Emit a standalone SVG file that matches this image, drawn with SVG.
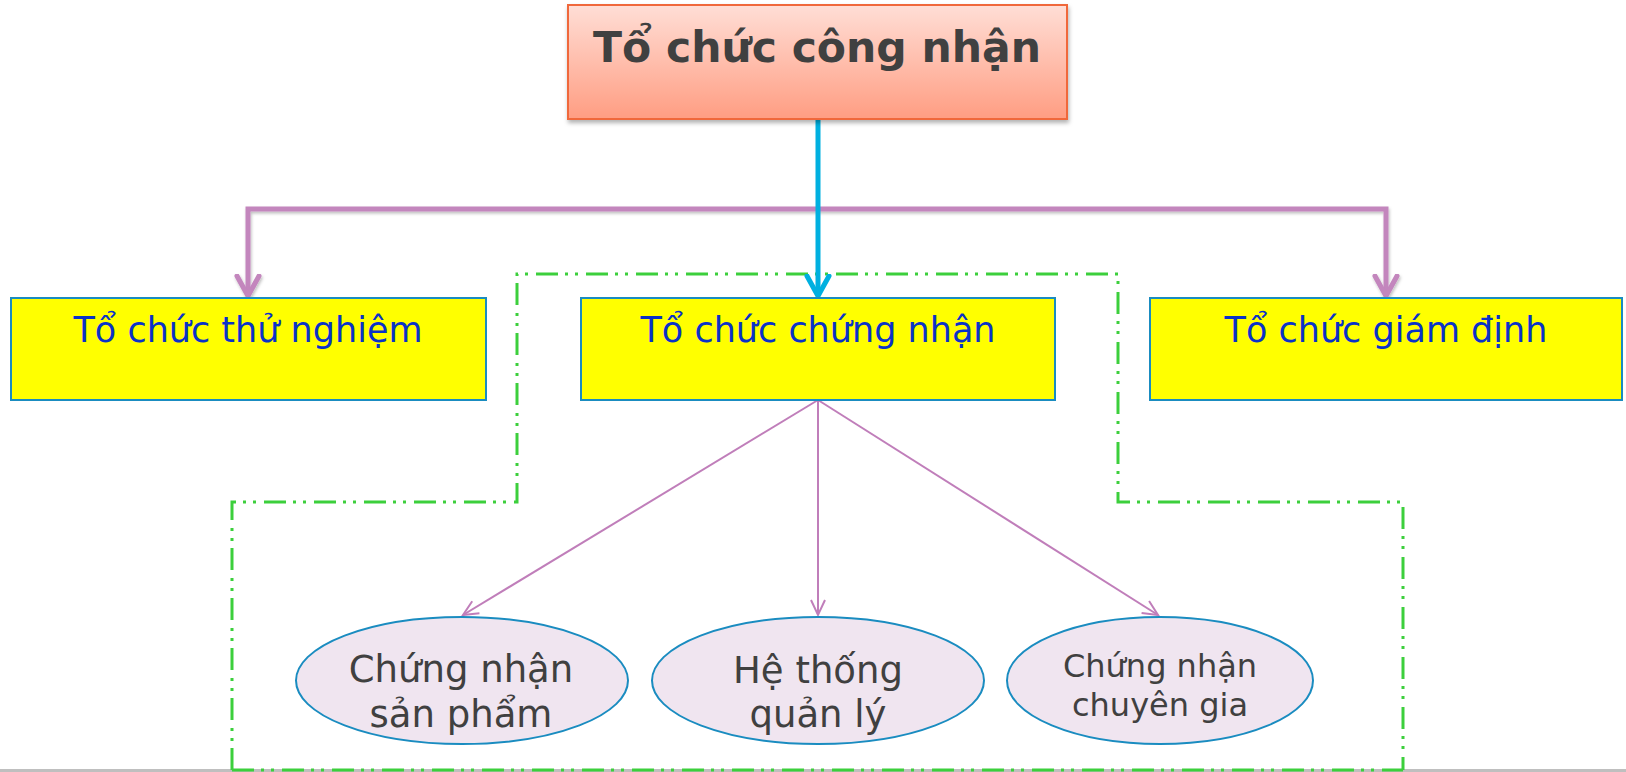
<svg xmlns="http://www.w3.org/2000/svg" width="1626" height="772" viewBox="0 0 1626 772">
<style>
.box{fill:#FFFF00;stroke:#1A8CC0;stroke-width:2}
.btxt{font-family:"DejaVu Sans",Verdana,sans-serif;font-size:35px;fill:#0A32C8;text-anchor:middle}
.ell{fill:#F0E5F0;stroke:#1A8CC0;stroke-width:2}
.etxt{font-family:"DejaVu Sans",Verdana,sans-serif;font-size:37px;fill:#404040;text-anchor:middle}
.etxt.sm{font-size:32px}
.thick{fill:none;stroke:#C386BD;stroke-width:5;stroke-linejoin:miter}
.thin{fill:none;stroke:#C07EBA;stroke-width:2}
.green{fill:none;stroke:#3CCF3C;stroke-width:3;stroke-dasharray:22 7 3 7 3 8}
</style>
<defs>
<linearGradient id="topg" x1="0" y1="0" x2="0" y2="1">
<stop offset="0" stop-color="#FFDED6"/>
<stop offset="1" stop-color="#FF9D82"/>
</linearGradient>
<filter id="sh" x="-10%" y="-10%" width="120%" height="130%">
<feDropShadow dx="1" dy="3" stdDeviation="2" flood-color="#000" flood-opacity="0.3"/>
</filter>
<filter id="lsh" filterUnits="userSpaceOnUse" x="200" y="180" width="1240" height="150">
<feDropShadow dx="1" dy="2" stdDeviation="1.5" flood-color="#000" flood-opacity="0.25"/>
</filter>
<marker id="ap" markerUnits="userSpaceOnUse" markerWidth="30" markerHeight="30" refX="22" refY="12" orient="auto-start-reverse" viewBox="0 0 30 24">
<path d="M2,1 L22,12 L2,23" fill="none" stroke="#C386BD" stroke-width="5" stroke-linecap="round" stroke-linejoin="round"/>
</marker>
<marker id="ab" markerUnits="userSpaceOnUse" markerWidth="30" markerHeight="30" refX="22" refY="12" orient="auto" viewBox="0 0 30 24">
<path d="M2,1 L22,12 L2,23" fill="none" stroke="#00B0E0" stroke-width="5" stroke-linecap="round" stroke-linejoin="round"/>
</marker>
<marker id="at" markerUnits="userSpaceOnUse" markerWidth="20" markerHeight="20" refX="16" refY="8" orient="auto" viewBox="0 0 20 16">
<path d="M1,1 L16,8 L1,15" fill="none" stroke="#C07EBA" stroke-width="2"/>
</marker>
</defs>
<rect width="1626" height="772" fill="#FFFFFF"/>
<line x1="0" y1="770.5" x2="1626" y2="770.5" stroke="#BFBFBF" stroke-width="3"/>

<g id="group-outline">
<path class="green" d="M232,770 V502 H517 V274 H1118 V502 H1403 V770"/>
<line class="green" x1="232" y1="770" x2="1403" y2="770"/>
</g>

<g id="connectors">
<path class="thick" filter="url(#lsh)" d="M248,296 V209 H1386 V296" marker-start="url(#ap)" marker-end="url(#ap)"/>
<path d="M818,119 V296" fill="none" stroke="#00B0E0" stroke-width="5" marker-end="url(#ab)"/>
<path class="thin" d="M818,400 L463,615" marker-end="url(#at)"/>
<path class="thin" d="M818,400 L818,615" marker-end="url(#at)"/>
<path class="thin" d="M818,400 L1158,615" marker-end="url(#at)"/>
</g>

<g id="node-cong-nhan">
<rect x="568" y="5" width="499" height="114" fill="url(#topg)" stroke="#F0673A" stroke-width="2" filter="url(#sh)"/>
<text x="817" y="62" font-family="'DejaVu Sans',Verdana,sans-serif" font-size="42.5" font-weight="bold" fill="#404040" text-anchor="middle">Tổ chức công nhận</text>
</g>

<g id="node-thu-nghiem">
<rect class="box" x="11" y="298" width="475" height="102"/>
<text class="btxt" x="248" y="342">Tổ chức thử nghiệm</text>
</g>

<g id="node-chung-nhan">
<rect class="box" x="581" y="298" width="474" height="102"/>
<text class="btxt" x="818" y="342">Tổ chức chứng nhận</text>
</g>

<g id="node-giam-dinh">
<rect class="box" x="1150" y="298" width="472" height="102"/>
<text class="btxt" x="1386" y="342">Tổ chức giám định</text>
</g>

<g id="node-san-pham">
<ellipse class="ell" cx="462" cy="680.5" rx="166" ry="63.5"/>
<text class="etxt" x="461" y="682">Chứng nhận</text>
<text class="etxt" x="461" y="727">sản phẩm</text>
</g>

<g id="node-he-thong">
<ellipse class="ell" cx="818" cy="680.5" rx="166" ry="63.5"/>
<text class="etxt" x="818" y="683">Hệ thống</text>
<text class="etxt" x="818" y="727">quản lý</text>
</g>

<g id="node-chuyen-gia">
<ellipse class="ell" cx="1160" cy="680.5" rx="153" ry="63.5"/>
<text class="etxt sm" x="1160" y="677">Chứng nhận</text>
<text class="etxt sm" x="1160" y="716">chuyên gia</text>
</g>
</svg>
